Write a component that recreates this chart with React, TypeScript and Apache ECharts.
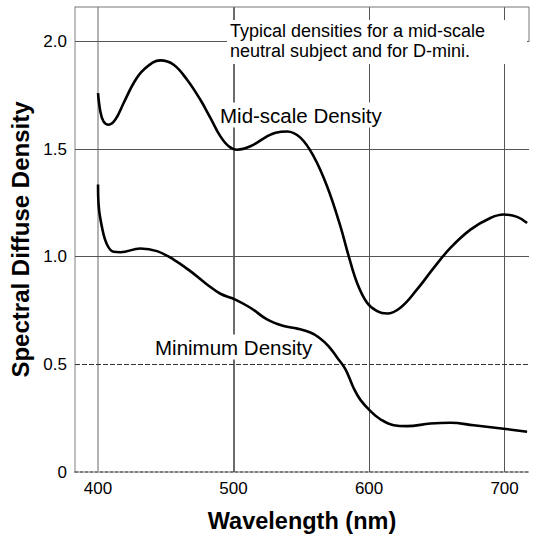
import React, { useEffect, useRef } from "react";
import * as echarts from "echarts";

const midScaleWl = [400, 401.7, 404, 407.8, 412.8, 418.9, 426.3, 433.7, 446, 455.8, 465.7, 475.5, 482.9, 490.3, 496.4, 502.6, 512.4, 524.7, 531, 539.5, 549.3, 559.1, 569, 578.8, 585, 591.1, 598.5, 605.9, 613.3, 623.1, 635.4, 647.7, 660, 674.8, 689.5, 699.3, 709.2, 716.6];
const midScaleD = [1.76, 1.675, 1.629, 1.613, 1.637, 1.714, 1.807, 1.869, 1.912, 1.892, 1.822, 1.729, 1.645, 1.559, 1.513, 1.497, 1.513, 1.559, 1.576, 1.582, 1.553, 1.466, 1.327, 1.142, 1.002, 0.879, 0.786, 0.747, 0.736, 0.763, 0.848, 0.948, 1.041, 1.126, 1.18, 1.196, 1.185, 1.157];

const minWl = [400, 400.4, 403, 406.6, 411.5, 416.5, 431.2, 443.5, 455.8, 468.1, 480.4, 490.3, 501.3, 512.4, 524.7, 537, 547, 556.7, 563, 570, 576.4, 582.5, 588.6, 593.6, 601, 608.3, 618.2, 628, 645.2, 660, 677.2, 699.3, 716.6];
const minD = [1.335, 1.242, 1.134, 1.057, 1.023, 1.021, 1.038, 1.026, 0.987, 0.933, 0.871, 0.828, 0.801, 0.763, 0.709, 0.678, 0.666, 0.648, 0.625, 0.585, 0.532, 0.478, 0.39, 0.335, 0.283, 0.245, 0.217, 0.213, 0.225, 0.229, 0.217, 0.201, 0.187];

const xTicks = [400, 500, 600, 700];
const yTicks = [0, 0.5, 1.0, 1.5, 2.0];

const FONT = "'Liberation Sans', Arial, Helvetica, sans-serif";

export default function App() {
  const ref = useRef<HTMLDivElement>(null);
  useEffect(() => {
    if (!ref.current) return;
    const chart = echarts.init(ref.current, null, { renderer: "svg" });
    const zip = (xs: number[], ys: number[]) => xs.map((x, i) => [x, ys[i]]);
    const vColors: Record<number, { color: string; width: number }> = {
      400: { color: "#9a9a9a", width: 1.5 },
      500: { color: "#3a3a3a", width: 1.5 },
      600: { color: "#555", width: 1 },
      700: { color: "#555", width: 1 },
    };
    const gridLines: any[] = [];
    xTicks.forEach((v) => {
      gridLines.push({ xAxis: v, lineStyle: { color: vColors[v].color, width: vColors[v].width, type: "solid" } });
    });
    yTicks.filter((v) => v > 0).forEach((v) => {
      gridLines.push({ yAxis: v, lineStyle: { color: v === 0.5 ? "#333" : "#555", width: 1, type: v === 0.5 ? [5, 2] : "solid" } });
    });
    chart.setOption({
      animation: false,
      backgroundColor: "#fff",
      grid: { left: 75, top: 7, right: 5, bottom: 65 },
      xAxis: {
        type: "value",
        min: 383,
        max: 718,
        name: "Wavelength (nm)",
        nameLocation: "middle",
        nameGap: 37,
        nameTextStyle: { fontFamily: FONT, fontWeight: "bold", fontSize: 23.5, color: "#000" },
        axisLine: { show: true, lineStyle: { color: "#555", width: 1.5, type: [3, 2] } },
        axisTick: { show: false },
        splitLine: { show: false },
        axisLabel: { customValues: xTicks, fontFamily: FONT, fontSize: 17, color: "#000", margin: 8 },
      },
      yAxis: {
        type: "value",
        min: 0,
        max: 2.16,
        name: "Spectral Diffuse Density",
        nameLocation: "middle",
        nameGap: 38,
        nameTextStyle: { fontFamily: FONT, fontWeight: "bold", fontSize: 24, color: "#000" },
        axisLine: { show: true, lineStyle: { color: "#aaa", width: 1.5 } },
        axisTick: { show: false },
        splitLine: { show: false },
        axisLabel: {
          customValues: yTicks,
          fontFamily: FONT,
          fontSize: 17,
          color: "#000",
          margin: 8,
          formatter: (v: number) => (v === 0 ? "0" : v.toFixed(1)),
        },
      },
      series: [
        {
          type: "line",
          data: [],
          z: 1,
          silent: true,
          markLine: { z: 1, silent: true, symbol: "none", label: { show: false }, data: gridLines, animation: false },
        },
        {
          type: "line",
          name: "Mid-scale Density",
          data: zip(midScaleWl, midScaleD),
          smooth: 0.4,
          showSymbol: false,
          z: 3,
          lineStyle: { color: "#000", width: 2.6 },
        },
        {
          type: "line",
          name: "Minimum Density",
          data: zip(minWl, minD),
          smooth: 0.4,
          showSymbol: false,
          z: 3,
          lineStyle: { color: "#000", width: 2.6 },
        },
      ],
      graphic: [
        { type: "line", z: 50, shape: { x1: 75, y1: 7, x2: 529, y2: 7 }, style: { stroke: "#777", lineWidth: 1 } },
        { type: "line", z: 50, shape: { x1: 529, y1: 7, x2: 529, y2: 42 }, style: { stroke: "#777", lineWidth: 1 } },
        { type: "rect", z: 60, shape: { x: 227, y: 20, width: 300, height: 44 }, style: { fill: "#fff" } },
        {
          type: "text",
          z: 61,
          x: 230,
          y: 21,
          style: {
            text: "Typical densities for a mid-scale\nneutral subject and for D-mini.",
            font: `18px ${FONT}`,
            fill: "#000",
            lineHeight: 20,
            align: "left",
            verticalAlign: "top",
          },
        },
        {
          type: "text",
          z: 2,
          x: 218,
          y: 115,
          style: {
            text: "Mid-scale Density",
            font: `20.5px ${FONT}`,
            fill: "#000",
            backgroundColor: "#fff",
            padding: [2, 2],
            align: "left",
            verticalAlign: "middle",
          },
        },
        {
          type: "text",
          z: 2,
          x: 154,
          y: 347,
          style: {
            text: "Minimum Density",
            font: `20.5px ${FONT}`,
            fill: "#000",
            backgroundColor: "#fff",
            padding: [2, 1],
            align: "left",
            verticalAlign: "middle",
          },
        },
      ],
    });
    return () => chart.dispose();
  }, []);
  return <div ref={ref} style={{ position: "fixed", left: 0, top: 0, width: 534, height: 538 }} />;
}
